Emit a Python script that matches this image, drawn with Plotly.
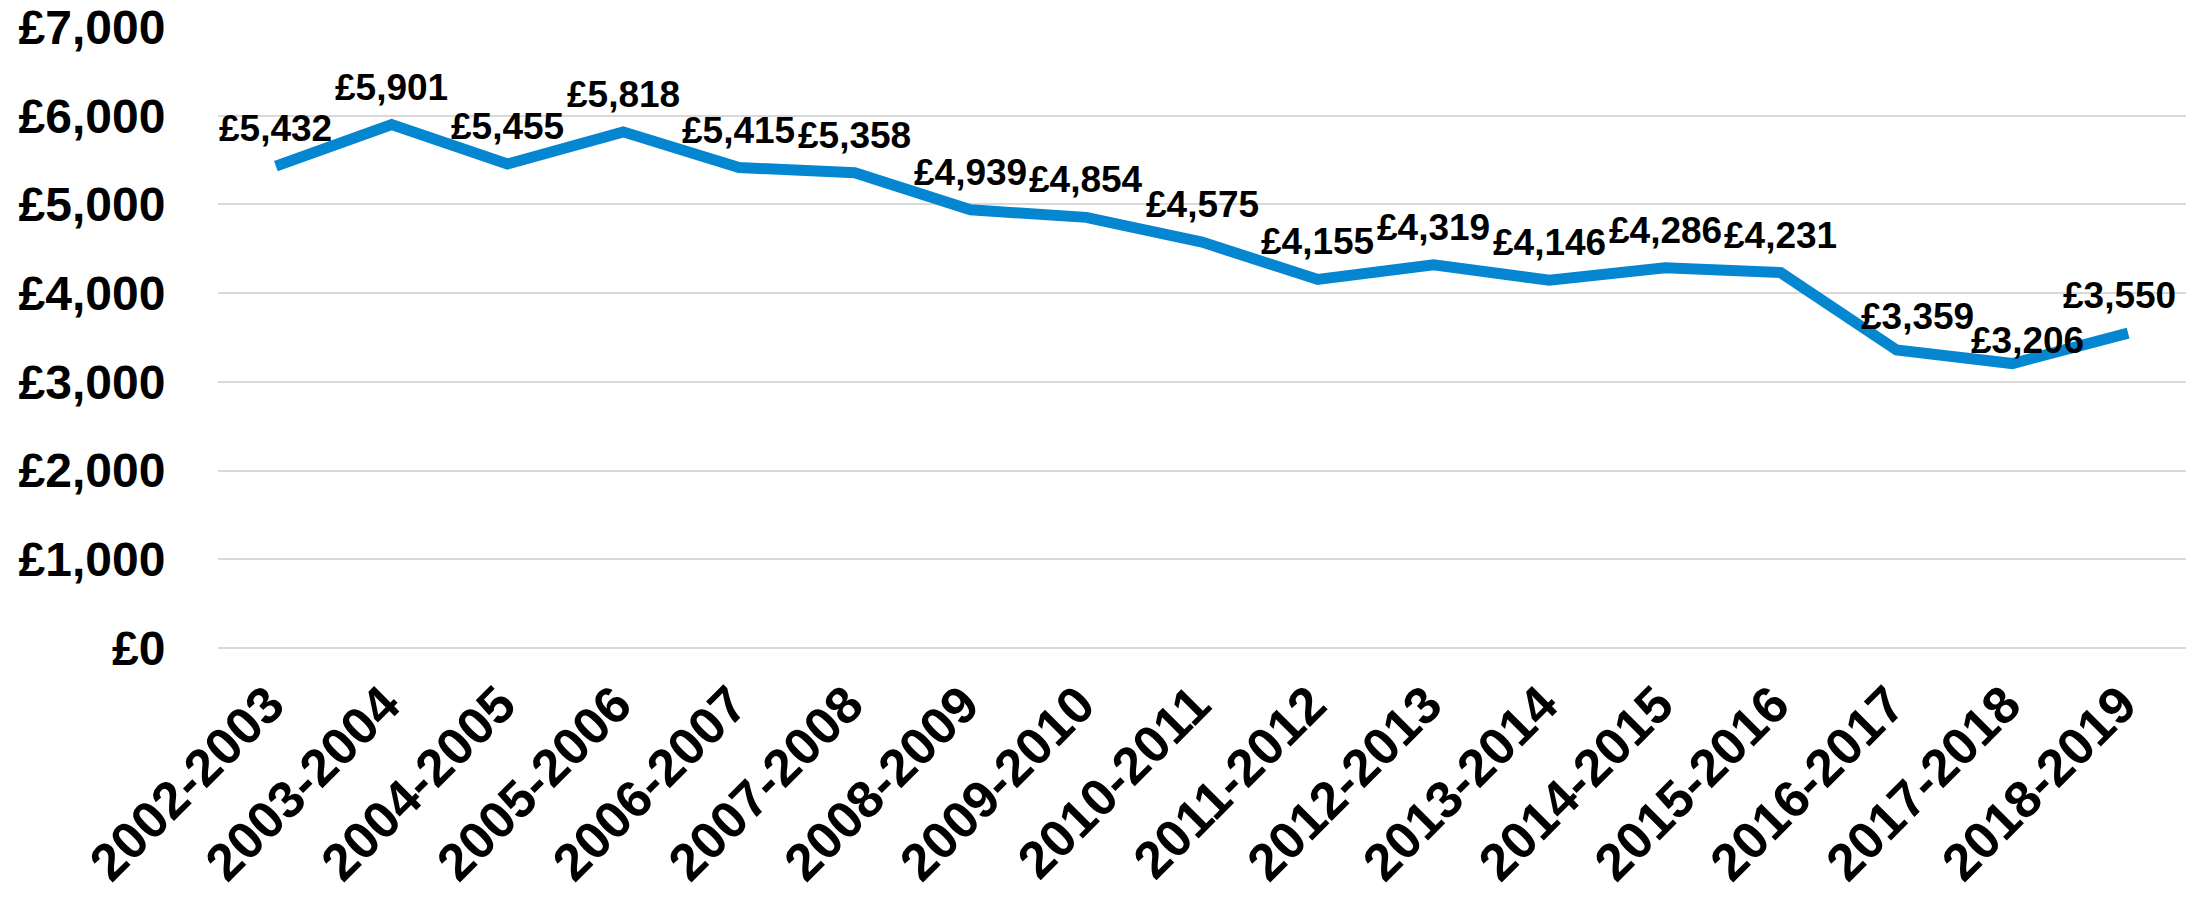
import plotly.graph_objects as go

# Financial years and average value per year (GBP)
periods = [
    "2002-2003", "2003-2004", "2004-2005", "2005-2006", "2006-2007",
    "2007-2008", "2008-2009", "2009-2010", "2010-2011", "2011-2012",
    "2012-2013", "2013-2014", "2014-2015", "2015-2016", "2016-2017",
    "2017-2018", "2018-2019",
]
values = [
    5432, 5901, 5455, 5818, 5415, 5358, 4939, 4854, 4575, 4155,
    4319, 4146, 4286, 4231, 3359, 3206, 3550,
]

y_ticks = [0, 1000, 2000, 3000, 4000, 5000, 6000, 7000]
y_tick_text = ["£{:,}".format(v) for v in y_ticks]

FONT = "Liberation Sans, Arial, sans-serif"
LINE_COLOR = "#0586D0"
GRID_COLOR = "#D9D9D9"

# small pixel nudges for labels that would otherwise collide with the line
label_nudge = {
    "2016-2017": (21, -4),
    "2017-2018": (15, -14),
    "2018-2019": (-9, 0),
}

fig = go.Figure()
fig.add_trace(
    go.Scatter(
        x=periods,
        y=values,
        mode="lines",
        line=dict(color=LINE_COLOR, width=11),
        hoverinfo="x+y",
        showlegend=False,
    )
)

for p, v in zip(periods, values):
    dx, dy = label_nudge.get(p, (0, 0))
    fig.add_annotation(
        x=p,
        y=v,
        text="£{:,}".format(v),
        showarrow=False,
        xanchor="center",
        yanchor="bottom",
        yshift=15 + dy,
        xshift=dx,
        font=dict(family=FONT, size=37, color="black", weight="bold"),
    )

fig.update_layout(
    width=2199,
    height=899,
    margin=dict(l=218, r=13, t=27, b=251),
    paper_bgcolor="white",
    plot_bgcolor="white",
    font=dict(family=FONT, color="black"),
)

fig.update_xaxes(
    type="category",
    range=[-0.5, len(periods) - 0.5],
    tickangle=-45,
    tickfont=dict(family=FONT, size=52, color="black", weight="bold"),
    showgrid=False,
    showline=False,
    zeroline=False,
    ticks="outside",
    ticklen=4,
    tickcolor="rgba(0,0,0,0)",
    ticklabelshift=-7,
    automargin=False,
)

fig.update_yaxes(
    range=[0, 7000],
    tickvals=y_ticks,
    ticktext=y_tick_text,
    tickfont=dict(family=FONT, size=48, color="black", weight="bold"),
    showgrid=True,
    gridcolor=GRID_COLOR,
    gridwidth=2,
    zeroline=True,
    zerolinecolor=GRID_COLOR,
    zerolinewidth=2,
    showline=False,
    ticks="outside",
    ticklen=42,
    tickcolor="rgba(0,0,0,0)",
    automargin=False,
)

fig.write_html("out.html")
